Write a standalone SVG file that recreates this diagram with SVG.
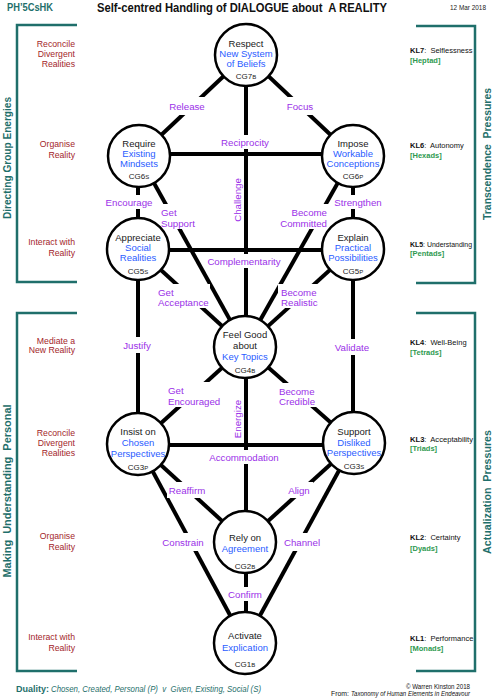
<svg xmlns="http://www.w3.org/2000/svg" width="494" height="700" viewBox="0 0 494 700">
<style>
text{font-family:"Liberation Sans",Arial,sans-serif}
.edge{stroke:#000;stroke-width:4;fill:none}
.gap{fill:#fff}
.node circle{fill:#fff;stroke:#000;stroke-width:2.5}
.nt{font-size:9.5px;text-anchor:middle;fill:#1a1a1a}
.bl{fill:#2a5cff}
.code{font-size:8px;text-anchor:middle;fill:#1a1a1a}
.sub{font-size:6px}
.lbl{font-size:9.7px;fill:#9b30e8}
.mid{text-anchor:middle}
.end{text-anchor:end}
.red{font-size:8.7px;fill:#a3262b;text-anchor:end}
.kl{font-size:7.5px;fill:#111}
.grn{font-size:7.5px;fill:#2e9a50;font-weight:bold}
.br{stroke:#1f6f6b;stroke-width:2.5;fill:none}
.side{font-size:11px;font-weight:bold;fill:#1f6f6b;text-anchor:middle}
</style>

<g id="frame">
<text x="7" y="11" font-size="11" font-weight="bold" fill="#1f6f6b" textLength="46" lengthAdjust="spacingAndGlyphs">PH’5CsHK</text>
<text x="97" y="12" font-size="12" font-weight="bold" fill="#111" textLength="290" lengthAdjust="spacingAndGlyphs">Self-centred Handling of DIALOGUE about&#160; A REALITY</text>
<text x="450" y="10" font-size="7" fill="#222" textLength="36" lengthAdjust="spacingAndGlyphs">12 Mar 2018</text>

<path class="br" d="M77,25 H17 V282 H77"/>
<path class="br" d="M77,313 H17 V671 H77"/>
<path class="br" d="M416,26 H475 V283 H416"/>
<path class="br" d="M416,313 H475 V671 H416"/>
<text class="side" transform="translate(11,158) rotate(-90)" textLength="122" lengthAdjust="spacingAndGlyphs">Directing Group Energies</text>
<text class="side" transform="translate(11,491) rotate(-90)" textLength="173" lengthAdjust="spacingAndGlyphs">Making&#160; Understanding&#160; Personal</text>
<text class="side" transform="translate(491,154) rotate(-90)" textLength="132" lengthAdjust="spacingAndGlyphs">Transcendence&#160; Pressures</text>
<text class="side" transform="translate(491,492) rotate(-90)" textLength="124" lengthAdjust="spacingAndGlyphs">Actualization&#160; Pressures</text>

<text class="red" x="75" y="46.5">Reconcile</text>
<text class="red" x="75" y="56.5">Divergent</text>
<text class="red" x="75" y="66.5">Realities</text>
<text class="red" x="75" y="147">Organise</text>
<text class="red" x="75" y="158">Reality</text>
<text class="red" x="75" y="245">Interact with</text>
<text class="red" x="75" y="256">Reality</text>
<text class="red" x="75" y="344">Mediate a</text>
<text class="red" x="75" y="353">New Reality</text>
<text class="red" x="75" y="436">Reconcile</text>
<text class="red" x="75" y="446">Divergent</text>
<text class="red" x="75" y="456">Realities</text>
<text class="red" x="75" y="539">Organise</text>
<text class="red" x="75" y="550">Reality</text>
<text class="red" x="75" y="640">Interact with</text>
<text class="red" x="75" y="651">Reality</text>

<text class="kl" x="410" y="52.5"><tspan font-weight="bold">KL7</tspan>:&#160; Selflessness</text>
<text class="grn" x="410" y="63">[Heptad]</text>
<text class="kl" x="410" y="148"><tspan font-weight="bold">KL6</tspan>:&#160; Autonomy</text>
<text class="grn" x="410" y="158">[Hexads]</text>
<text class="kl" x="410" y="247" textLength="62" lengthAdjust="spacingAndGlyphs"><tspan font-weight="bold">KL5</tspan>: Understanding</text>
<text class="grn" x="410" y="256">[Pentads]</text>
<text class="kl" x="410" y="345"><tspan font-weight="bold">KL4</tspan>:&#160; Well-Being</text>
<text class="grn" x="410" y="355">[Tetrads]</text>
<text class="kl" x="410" y="442" textLength="63" lengthAdjust="spacingAndGlyphs"><tspan font-weight="bold">KL3</tspan>:&#160; Acceptability</text>
<text class="grn" x="410" y="451">[Triads]</text>
<text class="kl" x="410" y="540"><tspan font-weight="bold">KL2</tspan>:&#160; Certainty</text>
<text class="grn" x="410" y="551">[Dyads]</text>
<text class="kl" x="410" y="641"><tspan font-weight="bold">KL1</tspan>:&#160; Performance</text>
<text class="grn" x="410" y="651">[Monads]</text>

<text x="16" y="692" font-size="9" font-weight="bold" fill="#1f6f6b" textLength="33" lengthAdjust="spacingAndGlyphs">Duality:</text>
<text x="51" y="692" font-size="9" font-style="italic" fill="#1f6f6b" textLength="210" lengthAdjust="spacingAndGlyphs">Chosen, Created, Personal (P)&#160; v&#160; Given, Existing, Social (S)</text>
<text x="470" y="689" font-size="6.5" fill="#111" text-anchor="end" textLength="64" lengthAdjust="spacingAndGlyphs">© Warren Kinston 2018</text>
<text x="331" y="696" font-size="6.5" fill="#111" textLength="18" lengthAdjust="spacingAndGlyphs">From:</text>
<text x="351" y="696" font-size="6.5" font-style="italic" fill="#111" textLength="119" lengthAdjust="spacingAndGlyphs">Taxonomy of Human Elements in Endeavour</text>
</g>

<g id="connectors">
<line class="edge" x1="246" y1="55" x2="139" y2="156"/>
<line class="edge" x1="246" y1="55" x2="353" y2="156"/>
<line class="edge" x1="246" y1="55" x2="246" y2="347"/>
<line class="edge" x1="139" y1="154" x2="353" y2="154"/>
<line class="edge" x1="138" y1="156" x2="138" y2="249"/>
<line class="edge" x1="353" y1="156" x2="353" y2="249"/>
<line class="edge" x1="139" y1="156" x2="245" y2="347"/>
<line class="edge" x1="353" y1="156" x2="245" y2="347"/>
<line class="edge" x1="138" y1="250" x2="353" y2="250"/>
<line class="edge" x1="138" y1="249" x2="245" y2="347"/>
<line class="edge" x1="353" y1="249" x2="245" y2="347"/>
<line class="edge" x1="138" y1="249" x2="138" y2="444"/>
<line class="edge" x1="353" y1="249" x2="353" y2="443"/>
<line class="edge" x1="245" y1="347" x2="138" y2="444"/>
<line class="edge" x1="245" y1="347" x2="354" y2="443"/>
<line class="edge" x1="246" y1="347" x2="246" y2="542"/>
<line class="edge" x1="138" y1="445" x2="354" y2="445"/>
<line class="edge" x1="138" y1="444" x2="245" y2="542"/>
<line class="edge" x1="354" y1="443" x2="245" y2="542"/>
<line class="edge" x1="138" y1="444" x2="245" y2="643"/>
<line class="edge" x1="354" y1="443" x2="245" y2="643"/>
<line class="edge" x1="246" y1="542" x2="246" y2="643"/>

<rect class="gap" x="168" y="97" width="40" height="18"/>
<rect class="gap" x="285" y="97" width="31" height="18"/>
<rect class="gap" x="220" y="135" width="52" height="14"/>
<rect class="gap" x="104" y="195" width="50" height="14"/>
<rect class="gap" x="334" y="195" width="50" height="14"/>
<rect class="gap" x="158" y="204" width="40" height="25"/>
<rect class="gap" x="276" y="204" width="54" height="25"/>
<rect class="gap" x="205" y="254" width="78" height="14"/>
<rect class="gap" x="155" y="284" width="55" height="24"/>
<rect class="gap" x="278" y="284" width="40" height="24"/>
<rect class="gap" x="120" y="337" width="34" height="16"/>
<rect class="gap" x="333" y="339" width="39" height="16"/>
<rect class="gap" x="165" y="382" width="56" height="25"/>
<rect class="gap" x="276" y="383" width="41" height="24"/>
<rect class="gap" x="207" y="450" width="74" height="14"/>
<rect class="gap" x="167" y="482" width="41" height="16"/>
<rect class="gap" x="285" y="482" width="28" height="16"/>
<rect class="gap" x="161" y="533" width="45" height="18"/>
<rect class="gap" x="281" y="533" width="41" height="18"/>
<rect class="gap" x="226" y="587" width="38" height="14"/>

<text class="lbl mid" x="187" y="109.5">Release</text>
<text class="lbl mid" x="300" y="109.5">Focus</text>
<text class="lbl mid" x="245" y="145.5">Reciprocity</text>
<text class="lbl mid" transform="translate(241,200) rotate(-90)">Challenge</text>
<text class="lbl mid" x="129" y="205.5">Encourage</text>
<text class="lbl mid" x="358" y="205.5">Strengthen</text>
<text class="lbl" x="161" y="215.5">Get<tspan x="161" y="226.5">Support</tspan></text>
<text class="lbl end" x="327" y="215.5">Become<tspan x="327" y="226.5">Committed</tspan></text>
<text class="lbl mid" x="244" y="264.5">Complementarity</text>
<text class="lbl" x="158" y="295.5">Get<tspan x="158" y="305.5">Acceptance</tspan></text>
<text class="lbl" x="281" y="295.5">Become<tspan x="281" y="305.5">Realistic</tspan></text>
<text class="lbl mid" x="137" y="348.5">Justify</text>
<text class="lbl mid" x="352" y="350.5">Validate</text>
<text class="lbl" x="168" y="393.5">Get<tspan x="168" y="404.5">Encouraged</tspan></text>
<text class="lbl" x="279" y="394.5">Become<tspan x="279" y="404.5">Credible</tspan></text>
<text class="lbl mid" transform="translate(241,419) rotate(-90)">Energize</text>
<text class="lbl mid" x="244" y="460.5">Accommodation</text>
<text class="lbl mid" x="187" y="493.5">Reaffirm</text>
<text class="lbl mid" x="299" y="493.5">Align</text>
<text class="lbl mid" x="183" y="545.5">Constrain</text>
<text class="lbl mid" x="302" y="545.5">Channel</text>
<text class="lbl mid" x="245" y="597.5">Confirm</text>
</g>

<g id="CG7" class="node">
<circle cx="246" cy="55" r="31"/>
<text class="nt" x="246" y="47">Respect</text>
<text class="nt bl" x="246" y="57">New System</text>
<text class="nt bl" x="246" y="67">of Beliefs</text>
<text class="code" x="246" y="79">CG7<tspan class="sub">B</tspan></text>
</g>
<g id="CG6S" class="node">
<circle cx="139" cy="156" r="31"/>
<text class="nt" x="139" y="147">Require</text>
<text class="nt bl" x="139" y="157">Existing</text>
<text class="nt bl" x="139" y="167">Mindsets</text>
<text class="code" x="139" y="179">CG6<tspan class="sub">S</tspan></text>
</g>
<g id="CG6P" class="node">
<circle cx="353" cy="156" r="31"/>
<text class="nt" x="353" y="147">Impose</text>
<text class="nt bl" x="353" y="157">Workable</text>
<text class="nt bl" x="353" y="167">Conceptions</text>
<text class="code" x="353" y="179">CG6<tspan class="sub">P</tspan></text>
</g>
<g id="CG5S" class="node">
<circle cx="138" cy="249" r="31"/>
<text class="nt" x="138" y="241">Appreciate</text>
<text class="nt bl" x="138" y="251">Social</text>
<text class="nt bl" x="138" y="261">Realities</text>
<text class="code" x="138" y="274">CG5<tspan class="sub">S</tspan></text>
</g>
<g id="CG5P" class="node">
<circle cx="353" cy="249" r="31"/>
<text class="nt" x="353" y="241">Explain</text>
<text class="nt bl" x="353" y="251">Practical</text>
<text class="nt bl" x="353" y="261">Possibilities</text>
<text class="code" x="353" y="274">CG5<tspan class="sub">P</tspan></text>
</g>
<g id="CG4" class="node">
<circle cx="245" cy="347" r="31"/>
<text class="nt" x="245" y="338">Feel Good</text>
<text class="nt" x="245" y="348.5">about</text>
<text class="nt bl" x="245" y="359.5">Key Topics</text>
<text class="code" x="245" y="372.5">CG4<tspan class="sub">B</tspan></text>
</g>
<g id="CG3P" class="node">
<circle cx="138" cy="444" r="31"/>
<text class="nt" x="138" y="435">Insist on</text>
<text class="nt bl" x="138" y="446">Chosen</text>
<text class="nt bl" x="138" y="456.5">Perspectives</text>
<text class="code" x="138" y="469.5">CG3<tspan class="sub">P</tspan></text>
</g>
<g id="CG3S" class="node">
<circle cx="354" cy="443" r="31"/>
<text class="nt" x="354" y="434.5">Support</text>
<text class="nt bl" x="354" y="445.5">Disliked</text>
<text class="nt bl" x="354" y="456">Perspectives</text>
<text class="code" x="354" y="469">CG3<tspan class="sub">S</tspan></text>
</g>
<g id="CG2" class="node">
<circle cx="245" cy="542" r="31"/>
<text class="nt" x="245" y="540.5">Rely on</text>
<text class="nt bl" x="245" y="551.5">Agreement</text>
<text class="code" x="245" y="568.5">CG2<tspan class="sub">B</tspan></text>
</g>
<g id="CG1" class="node">
<circle cx="245" cy="643" r="31"/>
<text class="nt" x="245" y="638.5">Activate</text>
<text class="nt bl" x="245" y="650.5">Explication</text>
<text class="code" x="245" y="667">CG1<tspan class="sub">B</tspan></text>
</g>
</svg>
